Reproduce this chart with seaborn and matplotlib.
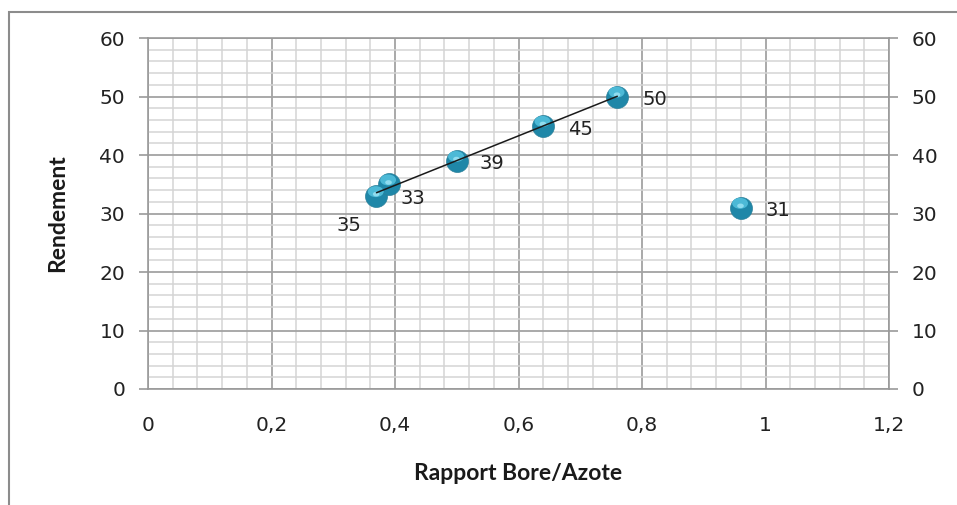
import matplotlib
matplotlib.use("Agg")
import matplotlib.pyplot as plt
import seaborn as sns
from matplotlib.ticker import MultipleLocator, FixedLocator
from matplotlib.patches import Rectangle
from matplotlib.path import Path
from matplotlib.transforms import Affine2D

sns.set_style("white")
plt.rcParams['font.family'] = ['DejaVu Sans']

# ── Données ──
rapport = [0.37, 0.39, 0.50, 0.64, 0.76, 0.96]
rendement = [33, 35, 39, 45, 50, 31]
etiquettes = ['33', '35', '39', '45', '50', '31']
# décalage des étiquettes (pixels), l'étiquette "35" a été déplacée à la main
decalages = [(24, -3), (-52, -41), (23, -3), (25, -4), (25, -3), (25, -3)]

x_ticks = [0, 0.2, 0.4, 0.6, 0.8, 1.0, 1.2]
x_tick_labels = ['0', '0,2', '0,4', '0,6', '0,8', '1', '1,2']
y_ticks = [0, 10, 20, 30, 40, 50, 60]

fig = plt.figure(figsize=(9.57, 5.05), dpi=100)
ax = fig.add_axes([148 / 957, 1 - 389 / 505, (889 - 148) / 957, (389 - 38) / 505])

# cadre du graphique (haut + gauche visibles)
fig.patches.append(Rectangle((9 / 957, -0.05), 1.05, 1 - 12 / 505 + 0.05,
                             transform=fig.transFigure, fill=False,
                             edgecolor='#8c8c8c', linewidth=1.5))

# points "sphères" : fond + reflet décalé vers le haut
reflet = Path.unit_circle().transformed(Affine2D().scale(0.55, 0.38).translate(-0.05, 0.3))
sns.scatterplot(x=rapport, y=rendement, s=250, color='#1f87a8',
                edgecolor='#2a7f99', linewidth=0.5, ax=ax, zorder=4)
sns.scatterplot(x=rapport, y=rendement, s=200, marker=reflet, color='#4cb9d6',
                edgecolor='none', ax=ax, zorder=5)
sns.scatterplot(x=rapport, y=rendement, s=35, marker=reflet, color='#8fdcef',
                edgecolor='none', ax=ax, zorder=6)

# courbe de tendance sur les 5 premiers points
sns.regplot(x=rapport[:5], y=rendement[:5], scatter=False, ci=None,
            truncate=True, ax=ax, line_kws={'color': '#1a1a1a', 'lw': 1.1, 'zorder': 7})

for xv, yv, lab, (dx, dy) in zip(rapport, rendement, etiquettes, decalages):
    ax.annotate(lab, (xv, yv), xytext=(dx * 0.72, dy * 0.72),
                textcoords='offset points', fontsize=14, color='#222222',
                va='center', ha='left')

ax.set_xlim(0, 1.2)
ax.set_ylim(0, 60)
ax.xaxis.set_major_locator(FixedLocator(x_ticks))
ax.set_xticklabels(x_tick_labels)
ax.xaxis.set_minor_locator(MultipleLocator(0.04))
ax.yaxis.set_major_locator(FixedLocator(y_ticks))
ax.yaxis.set_minor_locator(MultipleLocator(2))

ax.grid(which='minor', color='#d4d4d4', linewidth=1.1)
ax.grid(which='major', color='#a3a3a3', linewidth=1.3)
ax.set_axisbelow(True)

for s in ax.spines.values():
    s.set_color('#999999')
    s.set_linewidth(1.2)

ax.tick_params(axis='both', which='major', direction='out', length=6.5,
               width=1.2, color='#999999', labelsize=14.5, labelcolor='#222222', pad=10)
ax.tick_params(axis='both', which='minor', length=0)
ax.tick_params(axis='x', pad=13)

ax.set_xlabel('Rapport Bore/Azote', fontsize=16.5, fontweight='bold',
              fontfamily='Lato', color='#1a1a1a')
ax.set_ylabel('Rendement', fontsize=16.5, fontweight='bold',
              fontfamily='Lato', color='#1a1a1a')
ax.xaxis.set_label_coords(0.5, -0.212)
ax.yaxis.set_label_coords(-0.108, 0.5)

# axe secondaire à droite
ax2 = ax.twinx()
ax2.set_ylim(0, 60)
ax2.yaxis.set_major_locator(FixedLocator(y_ticks))
ax2.tick_params(axis='y', direction='out', length=6.5, width=1.2,
                color='#999999', labelsize=14.5, labelcolor='#222222', pad=10)
for s in ax2.spines.values():
    s.set_visible(False)
ax2.grid(False)

fig.savefig('out.png', dpi=100)
